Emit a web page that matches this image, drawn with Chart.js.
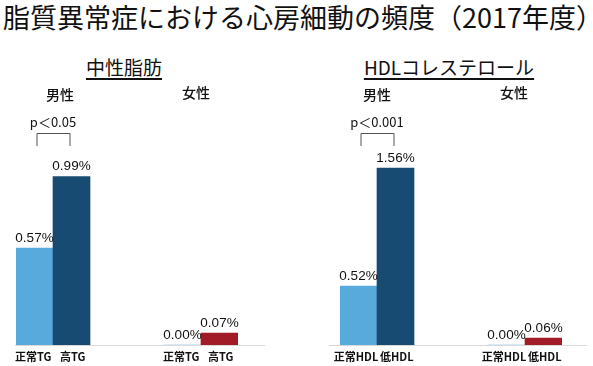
<!DOCTYPE html>
<html>
<head>
<meta charset="utf-8">
<script src="https://cdn.jsdelivr.net/npm/chart.js@4.4.1/dist/chart.umd.min.js"></script>
<style>
  body { margin: 0; background: #fff; }
  #wrap { position: relative; width: 593px; height: 366px; overflow: hidden; font-family: "Noto Sans CJK JP", sans-serif; color: #111; }
  #title { position: absolute; left: 3px; top: 0px; font-size: 27px; line-height: 34px; white-space: nowrap; letter-spacing: 0px; }
  .sub { position: absolute; top: 55px; font-size: 19px; line-height: 24px; white-space: nowrap; transform: translateX(-50%); text-decoration: underline; text-underline-offset: 3px; text-decoration-thickness: 1.5px; }
  canvas { position: absolute; top: 0; }
</style>
</head>
<body>
<div id="wrap">
  <div id="title">脂質異常症における心房細動の頻度（2017年度）</div>
  <div class="sub" style="left:124px">中性脂肪</div>
  <div class="sub" style="left:449px">HDLコレステロール</div>
  <div id="box1" style="position:absolute;left:0;top:0;width:300px;height:366px"><canvas id="chartTG"></canvas></div>
  <div id="box2" style="position:absolute;left:300px;top:0;width:293px;height:366px"><canvas id="chartHDL"></canvas></div>
</div>
<script>
// datos
const tgLabels = ['正常TG ', ' 高TG', '', '', '正常TG ', ' 高TG'];
const tgValues = [0.57, 0.99, null, null, 0.00, 0.07];
const hdlLabels = ['正常HDL  ', ' 低HDL', '', '', '正常HDL  ', ' 低HDL'];
const hdlValues = [0.52, 1.56, null, null, 0.00, 0.06];
const sexLabels = ['男性', '女性'];
const pLabels = ['p＜0.05', 'p＜0.001'];

const barColors = ['#58a9dc', '#184b72', '#58a9dc', '#58a9dc', '#58a9dc', '#a11c26'];

// etiquetas, corchete y linea base
const annot = {
    id: 'annot',
    afterDatasetsDraw(chart, args, opts) {
        const { ctx, chartArea: { left, right, top, bottom } } = chart;
        const bars = chart.getDatasetMeta(0).data;
        const vals = chart.data.datasets[0].data;
        ctx.save();

        // linea base
        const y0 = chart.scales.y.getPixelForValue(0);
        ctx.strokeStyle = '#d9d9d9';
        ctx.lineWidth = 1;
        ctx.beginPath();
        ctx.moveTo(left - opts.baseLeft, y0 + 0.5);
        ctx.lineTo(right + opts.baseRight, y0 + 0.5);
        ctx.stroke();

        // valores
        ctx.fillStyle = '#111';
        ctx.font = '13.5px "Liberation Sans", sans-serif';
        ctx.textAlign = 'center';
        ctx.textBaseline = 'middle';
        bars.forEach((b, i) => {
            if (vals[i] === null) return;
            ctx.fillText(vals[i].toFixed(2) + '%', b.x, b.y - 10);
        });

        // 男性 / 女性
        ctx.font = '500 14px "Noto Sans CJK JP", sans-serif';
        const groups = [[0, 1], [4, 5]];
        groups.forEach((g, k) => {
            const cx = (bars[g[0]].x + bars[g[1]].x) / 2 + opts.sexShift[k];
            ctx.fillText(sexLabels[k], cx, top - 46 - k * 2);
        });

        // p valor
        const x1 = bars[0].x + 2, x2 = bars[1].x - 2;
        ctx.font = '13px "Noto Sans CJK JP", sans-serif';
        ctx.fillText(opts.pText, (x1 + x2) / 2, top - 19);
        ctx.strokeStyle = '#555';
        ctx.beginPath();
        ctx.moveTo(x1 + 0.5, top + 5);
        ctx.lineTo(x1 + 0.5, top - 7.5);
        ctx.lineTo(x2 + 0.5, top - 7.5);
        ctx.lineTo(x2 + 0.5, top + 5);
        ctx.stroke();
        ctx.restore();
    }
};

function makeChart(id, labels, values, yMax, padL, padR, extra) {
    return new Chart(document.getElementById(id), {
        type: 'bar',
        data: {
            labels: labels,
            datasets: [{
                data: values,
                backgroundColor: barColors,
                borderWidth: 0,
                barPercentage: 1,
                categoryPercentage: 1
            }]
        },
        options: {
            responsive: true,
            maintainAspectRatio: false,
            animation: false,
            layout: { padding: { left: padL, right: padR, top: 141, bottom: 0 } },
            plugins: {
                legend: { display: false },
                tooltip: { enabled: false },
                annot: extra
            },
            scales: {
                x: {
                    grid: { display: false, drawTicks: false },
                    border: { display: false },
                    ticks: {
                        color: '#111',
                        padding: 5,
                        maxRotation: 0,
                        autoSkip: false,
                        font: { size: 11, weight: 'bold', family: '"Liberation Sans Narrow", "Noto Sans CJK JP", sans-serif' }
                    },
                    afterFit: (scale) => { scale.height = 21; }
                },
                y: { display: false, min: 0, max: yMax }
            }
        },
        plugins: [annot]
    });
}

makeChart('chartTG', tgLabels, tgValues, 1.2, 16, 62,
    { pText: pLabels[0], baseLeft: 1, baseRight: 27, sexShift: [7, -5] });
makeChart('chartHDL', hdlLabels, hdlValues, 1.8, 40, 31,
    { pText: pLabels[1], baseLeft: 11, baseRight: 25, sexShift: [0, -11] });
</script>
</body>
</html>
